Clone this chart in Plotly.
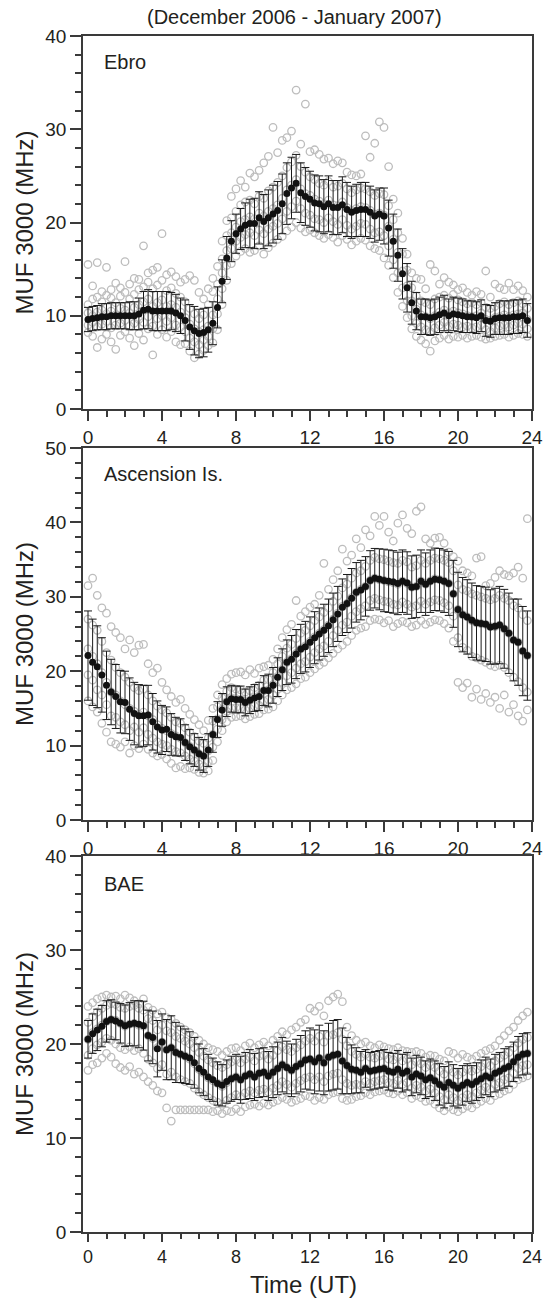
import plotly.graph_objects as go

# 15-minute UT slots 0.00 ... 23.75
TIMES = [i * 0.25 for i in range(96)]

TITLE = "(December 2006 - January 2007)"
STATIONS = ["Ebro", "Ascension Is.", "BAE"]
Y_MAX = [40, 50, 40]
X_TICKS = [0, 4, 8, 12, 16, 20, 24]

ebro_mean = [9.6, 9.7, 9.8, 9.9, 9.9, 10.0, 10.0, 10.0, 10.0, 10.0, 10.0, 10.2,
             10.6, 10.7, 10.5, 10.5, 10.5, 10.5, 10.5, 10.3, 10.0, 9.5, 8.8, 8.4,
             8.1, 8.2, 8.5, 9.2, 10.9, 13.7, 16.2, 18.0, 18.8, 19.3, 19.7, 19.9,
             19.9, 20.5, 20.1, 20.5, 20.9, 21.3, 22.0, 23.1, 23.7, 24.2, 23.2, 22.8,
             22.5, 22.1, 22.0, 21.7, 22.0, 21.6, 21.6, 21.9, 21.4, 21.1, 21.3, 21.4,
             21.4, 21.1, 20.7, 20.9, 20.7, 19.4, 18.0, 16.5, 14.5, 13.0, 11.4, 10.5,
             9.9, 9.9, 9.8, 9.9, 10.1, 10.3, 10.0, 10.2, 10.1, 10.0, 9.9, 9.9,
             9.8, 10.0, 9.5, 9.4, 9.7, 9.8, 9.8, 9.8, 9.9, 9.9, 10.0, 9.5]
ebro_std = [1.3, 1.3, 1.3, 1.4, 1.4, 1.4, 1.4, 1.4, 1.4, 1.5, 1.5, 1.7,
            2.0, 2.1, 2.1, 2.1, 2.1, 2.1, 2.0, 2.0, 1.9, 2.2, 2.4, 2.6,
            2.6, 2.6, 2.4, 2.3, 2.2, 2.3, 2.3, 2.2, 2.1, 2.2, 2.4, 2.6,
            2.7, 2.8, 2.9, 3.0, 3.1, 3.1, 3.2, 3.3, 3.3, 3.1, 3.2, 3.1,
            3.0, 3.0, 3.0, 2.9, 3.0, 2.9, 2.9, 3.0, 2.9, 2.8, 2.8, 2.9,
            2.9, 2.8, 2.8, 2.8, 3.0, 3.0, 2.9, 2.8, 2.7, 2.6, 2.3, 2.0,
            1.9, 1.9, 1.9, 1.9, 1.9, 1.9, 1.8, 1.8, 1.8, 1.8, 1.7, 1.7,
            1.7, 1.7, 1.7, 1.7, 1.7, 1.8, 1.8, 1.8, 1.8, 1.8, 1.8, 1.8]

asc_mean = [22.1, 21.2, 20.6, 19.5, 18.1, 17.2, 16.6, 15.9, 15.8, 14.9, 14.3, 14.0,
            14.0, 14.1, 13.2, 12.5, 12.1, 12.2, 11.5, 11.2, 11.1, 10.4, 9.85, 9.4,
            8.9, 8.6, 9.4, 11.5, 13.5, 14.8, 15.9, 16.3, 16.2, 16.2, 15.8, 16.1,
            16.4, 16.6, 17.4, 17.4, 18.1, 19.2, 20.2, 21.2, 21.6, 22.3, 23.0, 23.3,
            23.9, 24.5, 25.0, 25.5, 26.1, 26.9, 27.7, 28.6, 29.1, 29.8, 30.6, 30.9,
            31.4, 32.2, 32.5, 32.35, 32.2, 32.1, 32.0, 31.8, 32.1, 31.85, 31.3, 31.4,
            32.1, 31.7, 32.1, 32.35, 32.3, 32.1, 31.8, 30.4, 28.3, 27.6, 27.3, 26.85,
            26.5, 26.4, 26.3, 25.95, 26.05, 26.2, 25.7, 25.1, 24.2, 23.9, 22.7, 22.1]
asc_std = [6.0, 5.8, 5.5, 5.0, 4.6, 4.4, 4.3, 4.2, 4.2, 4.2, 4.2, 4.2,
           4.1, 4.0, 3.8, 3.5, 3.3, 3.0, 2.8, 2.6, 2.5, 2.4, 2.3, 2.2,
           2.2, 2.2, 2.2, 2.4, 2.4, 2.2, 2.0, 1.8, 1.8, 1.8, 1.8, 1.8,
           1.8, 1.9, 2.0, 2.2, 2.4, 2.6, 2.8, 3.0, 3.2, 3.3, 3.3, 3.4,
           3.4, 3.5, 3.5, 3.5, 3.6, 3.6, 3.7, 3.8, 3.9, 4.0, 4.0, 4.0,
           4.0, 4.0, 4.0, 4.1, 4.2, 4.2, 4.2, 4.2, 4.2, 4.2, 4.2, 4.2,
           4.2, 4.2, 4.2, 4.2, 4.2, 4.2, 4.3, 4.5, 5.0, 5.0, 5.0, 5.0,
           5.0, 5.0, 5.0, 5.0, 5.1, 5.2, 5.3, 5.4, 5.5, 5.8, 6.0, 6.0]

bae_mean = [20.5, 21.1, 21.5, 21.9, 22.4, 22.6, 22.45, 22.2, 21.95, 22.1, 22.2, 22.1,
            21.95, 20.9, 20.7, 19.5, 20.2, 19.4, 19.6, 19.1, 18.9, 18.7, 18.5, 18.0,
            17.4, 17.0, 16.5, 16.2, 15.8, 15.6, 16.0, 16.3, 16.5, 16.2, 16.6, 16.8,
            16.5, 16.9, 17.0, 16.6, 17.0, 17.4, 17.8, 17.5, 17.2, 17.6, 17.9, 18.3,
            18.4, 18.1, 18.5, 18.0, 18.6, 18.8, 18.9, 18.2, 17.7, 17.3, 17.2, 17.0,
            17.4, 17.1, 17.2, 17.3, 17.4, 17.1, 17.0, 17.3, 16.9, 17.1, 16.5, 16.8,
            16.6, 16.2, 16.4, 16.1, 15.7, 15.4, 15.9, 15.6, 15.3, 15.6, 15.9, 15.7,
            16.0, 16.3, 16.6, 16.4, 16.9, 17.1, 17.4, 17.6, 18.1, 18.6, 18.9, 19.0]
bae_std = [2.0, 2.1, 2.2, 2.2, 2.2, 2.1, 2.0, 2.1, 2.2, 2.3, 2.4, 2.5,
           2.6, 2.7, 2.8, 3.0, 3.0, 3.2, 3.4, 3.2, 3.0, 2.9, 2.8, 2.7,
           2.6, 2.5, 2.4, 2.3, 2.3, 2.2, 2.3, 2.4, 2.4, 2.5, 2.5, 2.6,
           2.5, 2.6, 2.6, 2.6, 2.7, 2.8, 2.9, 2.8, 2.8, 2.9, 3.0, 3.1,
           3.3, 3.4, 3.5, 3.4, 3.6, 3.7, 3.7, 3.5, 3.0, 2.6, 2.4, 2.2,
           2.0, 2.0, 2.0, 2.0, 2.0, 2.0, 2.0, 2.0, 2.0, 2.0, 2.0, 2.0,
           2.0, 2.0, 2.0, 2.1, 2.2, 2.2, 2.2, 2.2, 2.1, 2.1, 2.0, 2.0,
           2.0, 2.0, 2.0, 2.0, 2.0, 2.0, 2.1, 2.1, 2.1, 2.2, 2.2, 2.2]

# individual daily values (grey open circles), five per 15-min slot
ebro_obs = [
    [8.2, 9.0, 10.3, 11.2, 15.5], [7.8, 9.3, 10.0, 11.8, 13.2], [6.6, 8.8, 10.4, 12.0, 15.7], [7.5, 9.1, 10.6, 11.5, 12.6],
    [8.0, 9.4, 10.2, 12.2, 15.2], [7.2, 8.7, 10.5, 11.9, 12.8], [6.4, 9.0, 10.1, 11.4, 13.5], [7.9, 9.2, 10.8, 12.1, 13.0],
    [8.3, 9.5, 10.6, 12.5, 15.8], [7.6, 8.9, 10.3, 11.8, 13.4], [6.8, 9.2, 10.9, 12.3, 14.0], [8.1, 9.6, 11.2, 12.8, 13.9],
    [7.4, 9.3, 11.5, 13.1, 17.5], [8.6, 9.9, 11.8, 13.6, 14.6], [5.8, 8.9, 11.0, 12.9, 14.9], [8.0, 9.7, 11.4, 13.3, 15.2],
    [8.5, 10.0, 11.7, 13.8, 18.8], [7.7, 9.4, 11.0, 12.7, 14.4], [8.3, 9.8, 11.2, 13.0, 14.7], [7.2, 9.0, 10.9, 12.4, 14.2],
    [6.9, 8.8, 10.4, 12.0, 13.6], [7.0, 8.3, 9.8, 11.5, 13.9], [6.2, 7.6, 9.1, 10.8, 14.3], [5.5, 7.2, 8.6, 10.2, 13.8],
    [5.9, 6.9, 8.3, 9.7, 12.5], [6.3, 7.4, 8.5, 10.1, 11.8], [6.8, 7.8, 8.9, 11.2, 12.9], [7.1, 8.6, 10.1, 12.6, 14.0],
    [8.5, 10.2, 11.8, 13.4, 15.3], [11.2, 12.9, 14.6, 16.1, 18.0], [13.8, 15.4, 17.0, 18.6, 20.2], [15.6, 17.2, 18.9, 20.5, 22.8],
    [16.4, 18.0, 19.5, 21.2, 23.6], [16.9, 18.4, 20.1, 21.9, 24.5], [17.2, 18.7, 20.3, 22.2, 23.8], [16.8, 18.9, 20.6, 22.4, 25.3],
    [17.0, 18.6, 20.4, 22.0, 24.9], [17.5, 19.2, 21.0, 22.8, 25.6], [16.6, 18.8, 20.7, 22.6, 26.4], [17.3, 19.3, 21.2, 23.4, 27.1],
    [17.8, 19.6, 21.5, 23.8, 30.2], [18.2, 19.9, 21.9, 24.3, 27.5], [18.5, 20.4, 22.6, 25.0, 28.8], [19.1, 21.2, 23.5, 25.9, 29.1],
    [19.5, 21.7, 24.0, 26.5, 29.8], [20.0, 22.3, 24.6, 27.2, 34.2], [19.4, 21.5, 23.6, 26.0, 28.4], [19.0, 21.0, 23.1, 25.4, 32.7],
    [19.2, 20.8, 22.9, 24.9, 27.6], [18.9, 20.4, 22.5, 24.6, 27.8], [18.6, 20.3, 22.3, 24.2, 27.3], [18.3, 20.0, 22.0, 24.0, 26.8],
    [18.7, 20.5, 22.4, 24.4, 26.9], [18.4, 20.1, 21.9, 23.8, 26.3], [17.9, 19.8, 21.8, 23.9, 26.6], [18.6, 20.3, 22.2, 24.2, 26.4],
    [18.2, 19.7, 21.6, 23.6, 25.4], [17.6, 19.3, 21.3, 23.2, 25.1], [18.0, 19.6, 21.5, 23.5, 25.0], [18.3, 19.9, 21.7, 23.7, 25.2],
    [18.1, 19.8, 21.6, 23.6, 29.3], [17.5, 19.3, 21.3, 23.3, 27.0], [17.2, 18.9, 20.9, 22.9, 28.5], [17.0, 19.0, 21.0, 23.1, 30.8],
    [16.2, 18.6, 20.8, 23.0, 30.2], [15.4, 17.5, 19.6, 21.8, 26.0], [14.1, 16.0, 18.2, 20.3, 22.5], [12.5, 14.6, 16.8, 18.9, 21.0],
    [11.0, 13.0, 14.8, 16.6, 18.3], [9.8, 11.6, 13.2, 14.9, 16.6], [8.6, 10.0, 11.6, 13.0, 14.6], [7.8, 9.2, 10.7, 12.1, 14.0],
    [7.4, 8.8, 10.1, 11.6, 13.9], [7.0, 8.5, 9.9, 11.4, 12.9], [6.2, 8.3, 9.7, 11.2, 15.5], [7.3, 8.7, 10.0, 11.8, 14.8],
    [7.6, 9.0, 10.4, 12.0, 13.4], [7.9, 9.3, 10.6, 12.2, 14.1], [7.5, 8.9, 10.3, 11.9, 13.6], [7.8, 9.1, 10.5, 12.3, 13.3],
    [7.7, 9.0, 10.3, 11.7, 12.8], [7.9, 8.8, 10.2, 11.5, 13.0], [7.6, 8.9, 10.0, 11.3, 12.5], [7.8, 8.7, 9.9, 11.4, 12.2],
    [7.9, 8.8, 10.0, 11.2, 12.6], [7.7, 9.0, 10.3, 11.4, 12.3], [7.5, 8.5, 9.6, 10.9, 14.8], [7.6, 8.3, 9.5, 10.8, 12.0],
    [7.8, 8.7, 9.8, 11.0, 13.4], [7.9, 8.9, 9.9, 11.3, 13.0], [8.0, 9.0, 10.1, 11.5, 12.8], [7.7, 8.8, 9.9, 11.2, 13.5],
    [7.9, 9.0, 10.1, 11.4, 12.8], [8.1, 9.2, 10.2, 11.6, 13.2], [8.0, 9.1, 10.3, 11.3, 12.7], [7.8, 8.6, 9.6, 10.8, 12.0],
]

asc_obs = [
    [16.0, 19.5, 23.0, 27.0, 31.5], [15.2, 18.8, 22.0, 26.2, 32.5], [14.5, 17.5, 21.0, 25.5, 30.2], [13.0, 16.8, 19.8, 24.0, 28.5],
    [11.8, 15.5, 18.5, 22.5, 27.8], [10.5, 14.0, 17.2, 21.5, 26.0], [10.2, 13.8, 16.8, 20.5, 25.2], [9.8, 13.2, 16.0, 19.8, 24.5],
    [10.5, 12.8, 15.5, 19.2, 23.0], [9.0, 12.0, 15.0, 18.5, 24.2], [10.0, 12.5, 14.6, 17.8, 22.5], [9.6, 11.8, 14.2, 17.4, 23.5],
    [10.2, 12.4, 14.5, 17.6, 23.6], [9.5, 11.5, 14.0, 16.8, 21.0], [9.0, 11.0, 13.5, 16.0, 19.8], [8.6, 10.5, 12.8, 15.3, 20.4],
    [8.8, 10.2, 12.3, 14.8, 18.5], [8.2, 10.0, 12.0, 14.4, 17.5], [7.6, 9.5, 11.6, 13.8, 16.6], [7.0, 9.2, 11.3, 13.2, 15.8],
    [7.2, 9.0, 11.0, 13.0, 16.2], [6.9, 8.6, 10.4, 12.4, 15.0], [7.0, 8.2, 9.9, 11.8, 14.2], [6.8, 7.9, 9.4, 11.2, 13.5],
    [6.4, 7.5, 8.9, 10.6, 12.8], [6.3, 7.2, 8.6, 10.3, 12.0], [6.6, 7.8, 9.3, 11.0, 13.4], [8.0, 9.8, 11.5, 13.3, 15.0],
    [10.5, 12.2, 13.6, 15.2, 16.8], [12.0, 13.5, 14.9, 16.4, 18.2], [13.2, 14.6, 15.9, 17.3, 19.0], [13.8, 15.0, 16.4, 17.8, 19.6],
    [13.9, 15.1, 16.3, 17.6, 19.8], [14.0, 15.0, 16.2, 17.5, 19.9], [13.6, 14.8, 15.9, 17.2, 19.5], [13.9, 15.0, 16.1, 17.4, 20.2],
    [14.2, 15.3, 16.5, 17.8, 19.7], [14.3, 15.4, 16.7, 18.1, 20.4], [14.8, 16.0, 17.4, 18.8, 20.6], [14.9, 16.2, 17.5, 18.9, 20.8],
    [15.2, 16.8, 18.2, 19.8, 21.6], [16.0, 17.6, 19.3, 21.0, 23.0], [16.8, 18.5, 20.2, 22.0, 24.5], [17.5, 19.4, 21.2, 23.1, 25.6],
    [17.8, 19.8, 21.7, 23.6, 26.3], [18.3, 20.4, 22.4, 24.4, 29.5], [19.0, 21.0, 23.0, 25.1, 27.4], [19.2, 21.3, 23.4, 25.5, 28.0],
    [19.8, 21.9, 24.0, 26.1, 28.6], [20.3, 22.5, 24.6, 26.8, 29.0], [20.8, 23.0, 25.1, 27.3, 30.2], [21.2, 23.4, 25.6, 27.9, 34.5],
    [21.8, 24.0, 26.2, 28.5, 31.0], [22.4, 24.8, 27.0, 29.4, 32.3], [23.0, 25.5, 27.8, 30.1, 33.5], [23.5, 26.2, 28.7, 31.2, 36.4],
    [24.0, 26.6, 29.1, 31.7, 34.8], [24.8, 27.4, 29.9, 32.5, 35.6], [25.5, 28.0, 30.6, 33.2, 37.8], [25.8, 28.4, 31.0, 33.5, 36.6],
    [26.0, 28.8, 31.4, 34.1, 39.0], [26.8, 29.5, 32.2, 34.9, 38.2], [27.0, 29.8, 32.5, 35.3, 40.8], [26.9, 29.6, 32.3, 35.1, 39.6],
    [26.5, 29.4, 32.2, 35.0, 40.8], [26.8, 29.3, 32.0, 34.8, 38.7], [26.0, 29.0, 31.9, 34.6, 37.5], [26.4, 28.9, 31.7, 34.5, 39.9],
    [26.7, 29.3, 32.1, 34.9, 41.0], [26.5, 29.0, 31.8, 34.7, 39.2], [26.0, 28.6, 31.3, 34.0, 38.5], [26.2, 28.8, 31.4, 34.2, 41.5],
    [26.8, 29.4, 32.1, 34.9, 42.1], [26.3, 29.0, 31.7, 34.5, 37.8], [26.6, 29.3, 32.1, 34.9, 37.2], [26.9, 29.6, 32.4, 35.2, 37.9],
    [26.8, 29.5, 32.3, 35.1, 38.0], [26.4, 29.2, 32.1, 34.9, 37.2], [25.8, 28.8, 31.8, 34.6, 36.0], [24.0, 27.4, 30.4, 33.5, 35.4],
    [18.5, 24.5, 28.3, 31.6, 34.8], [17.8, 23.2, 27.6, 31.0, 33.5], [18.4, 22.8, 27.3, 30.8, 33.2], [16.5, 22.0, 26.8, 30.4, 32.8],
    [17.6, 21.8, 26.5, 30.2, 35.2], [16.2, 21.5, 26.4, 30.0, 35.4], [17.0, 21.2, 26.3, 29.8, 31.5], [15.8, 20.8, 26.0, 29.6, 31.8],
    [16.5, 20.6, 26.0, 29.8, 32.6], [15.0, 20.8, 26.2, 30.2, 33.5], [16.8, 20.5, 25.7, 29.8, 33.0], [14.5, 19.8, 25.1, 29.5, 32.8],
    [15.5, 19.2, 24.2, 28.8, 33.2], [14.0, 18.6, 23.9, 28.5, 34.0], [13.3, 17.8, 22.7, 27.6, 32.5], [14.8, 17.2, 22.1, 26.8, 40.5],
]

bae_obs = [
    [17.2, 18.8, 20.5, 22.3, 24.0], [17.8, 19.5, 21.2, 22.9, 24.4], [18.0, 19.9, 21.6, 23.4, 24.8], [18.5, 20.2, 22.0, 23.8, 25.0],
    [19.0, 20.6, 22.4, 24.1, 25.2], [18.6, 20.4, 22.6, 24.3, 25.0], [17.9, 20.0, 22.5, 24.2, 25.1], [17.5, 19.6, 22.2, 23.9, 24.8],
    [17.2, 19.4, 21.9, 23.8, 25.2], [17.6, 19.7, 22.1, 24.0, 24.9], [16.8, 19.3, 22.2, 24.1, 24.6], [17.0, 19.5, 22.0, 23.8, 24.3],
    [16.5, 19.0, 21.9, 23.6, 24.8], [16.0, 18.4, 20.9, 22.7, 23.9], [15.6, 18.0, 20.6, 22.5, 23.6], [15.0, 17.4, 19.6, 21.5, 23.2],
    [14.8, 17.8, 20.2, 22.0, 23.4], [13.2, 16.8, 19.4, 21.4, 22.8], [11.8, 17.0, 19.6, 21.2, 22.6], [13.0, 16.5, 19.1, 20.8, 22.2],
    [13.0, 16.2, 18.9, 20.6, 21.8], [13.0, 16.0, 18.7, 20.3, 21.5], [13.0, 15.8, 18.4, 20.0, 21.2], [13.0, 15.3, 17.9, 19.6, 20.8],
    [13.0, 14.9, 17.3, 19.1, 20.4], [13.0, 14.6, 16.9, 18.7, 20.0], [13.0, 14.3, 16.4, 18.3, 19.6], [12.8, 14.0, 16.1, 18.0, 19.4],
    [12.9, 13.8, 15.8, 17.7, 19.2], [12.6, 13.6, 15.5, 17.5, 18.8], [12.9, 14.0, 15.9, 17.8, 19.2], [12.8, 14.3, 16.3, 18.1, 19.5],
    [13.1, 14.6, 16.5, 18.3, 19.6], [12.8, 14.4, 16.2, 18.0, 19.3], [13.3, 14.8, 16.6, 18.4, 19.8], [13.5, 15.0, 16.8, 18.6, 20.1],
    [13.6, 14.8, 16.5, 18.2, 19.6], [13.4, 15.1, 16.9, 18.7, 19.9], [13.7, 15.2, 17.0, 18.8, 20.2], [13.5, 14.9, 16.6, 18.4, 19.8],
    [13.8, 15.3, 17.0, 18.8, 20.4], [14.0, 15.6, 17.4, 19.3, 20.8], [14.3, 16.0, 17.8, 19.7, 21.3], [14.1, 15.7, 17.5, 19.4, 21.0],
    [13.8, 15.4, 17.2, 19.2, 21.5], [14.0, 15.8, 17.6, 19.6, 21.8], [14.2, 16.1, 17.9, 19.9, 22.3], [14.5, 16.4, 18.3, 20.3, 22.6],
    [14.4, 16.5, 18.4, 20.6, 23.8], [14.0, 16.2, 18.1, 20.3, 23.5], [14.3, 16.5, 18.5, 20.8, 24.0], [14.1, 16.0, 18.0, 20.2, 23.0],
    [14.6, 16.6, 18.6, 20.9, 24.6], [14.8, 16.8, 18.8, 21.0, 25.0], [14.9, 16.9, 18.9, 21.2, 25.3], [14.2, 16.2, 18.2, 20.5, 24.5],
    [14.0, 15.8, 17.7, 19.8, 21.8], [14.1, 15.6, 17.3, 19.2, 20.9], [14.4, 15.7, 17.2, 18.9, 20.4], [14.5, 15.6, 17.0, 18.6, 20.0],
    [14.8, 16.0, 17.4, 18.9, 20.2], [14.6, 15.8, 17.1, 18.6, 19.8], [14.9, 16.0, 17.2, 18.5, 19.6], [15.0, 16.1, 17.3, 18.7, 19.9],
    [15.1, 16.2, 17.4, 18.8, 19.7], [14.8, 15.9, 17.1, 18.4, 19.5], [14.7, 15.8, 17.0, 18.3, 19.4], [15.0, 16.1, 17.3, 18.6, 19.6],
    [14.6, 15.7, 16.9, 18.2, 19.3], [14.8, 15.9, 17.1, 18.4, 19.2], [14.2, 15.3, 16.5, 17.8, 19.1], [14.5, 15.6, 16.8, 18.1, 19.2],
    [14.3, 15.4, 16.6, 17.9, 19.0], [13.9, 15.0, 16.2, 17.5, 18.6], [14.0, 15.2, 16.4, 17.7, 18.8], [13.6, 14.8, 16.1, 17.5, 18.7],
    [13.2, 14.4, 15.7, 17.1, 18.4], [12.9, 14.1, 15.4, 16.8, 18.2], [13.3, 14.6, 15.9, 17.3, 19.2], [13.0, 14.3, 15.6, 17.0, 19.0],
    [12.8, 14.0, 15.3, 16.7, 18.5], [13.1, 14.3, 15.6, 17.0, 18.9], [13.4, 14.6, 15.9, 17.3, 18.6], [13.2, 14.4, 15.7, 17.1, 18.4],
    [13.6, 14.8, 16.0, 17.3, 18.7], [13.9, 15.1, 16.3, 17.6, 19.0], [14.2, 15.4, 16.6, 17.9, 19.3], [14.0, 15.2, 16.4, 17.7, 19.5],
    [14.5, 15.7, 16.9, 18.2, 19.8], [14.7, 15.9, 17.1, 18.5, 20.4], [15.0, 16.2, 17.4, 18.8, 20.9], [15.2, 16.4, 17.6, 19.1, 21.4],
    [15.7, 16.9, 18.1, 19.6, 21.8], [16.2, 17.4, 18.6, 20.1, 22.5], [16.4, 17.7, 18.9, 20.5, 23.0], [16.6, 17.8, 19.0, 20.7, 23.4],
]

MEANS = [ebro_mean, asc_mean, bae_mean]
STDS = [ebro_std, asc_std, bae_std]
OBS = [ebro_obs, asc_obs, bae_obs]

FONT = "Liberation Sans, Arial, Helvetica, sans-serif"
INK = "#231f20"
AXC = "#3a3a3a"
GREY = "#bdbdbd"

# panel domains (paper fraction, bottom = 0)
DOMAINS = [[0.6881, 1.0], [0.3445, 0.6555], [0.0, 0.3144]]

fig = go.Figure()

for k in range(3):
    xs = "x" if k == 0 else f"x{k+1}"
    ys = "y" if k == 0 else f"y{k+1}"
    ox, oy = [], []
    for t, vals in zip(TIMES, OBS[k]):
        for v in vals:
            ox.append(t)
            oy.append(v)
    fig.add_trace(go.Scatter(
        x=ox, y=oy, mode="markers", xaxis=xs, yaxis=ys, showlegend=False,
        marker=dict(symbol="circle-open", size=7.5, color=GREY, line=dict(width=1.3, color=GREY)),
        hoverinfo="skip"))
    fig.add_trace(go.Scatter(
        x=TIMES, y=MEANS[k], mode="markers", xaxis=xs, yaxis=ys, showlegend=False,
        marker=dict(symbol="circle", size=7, color="#111111"),
        error_y=dict(type="data", array=STDS[k], visible=True, color="#1a1a1a",
                     thickness=1, width=4)))

for k in range(3):
    xname = "xaxis" if k == 0 else f"xaxis{k+1}"
    yname = "yaxis" if k == 0 else f"yaxis{k+1}"
    yanchor = "y" if k == 0 else f"y{k+1}"
    xanchor = "x" if k == 0 else f"x{k+1}"
    last = (k == 2)
    fig.layout[xname] = dict(
        domain=[0, 1], anchor=yanchor, range=[-0.27, 24.0], automargin=False,
        tickmode="array", tickvals=X_TICKS, ticktext=[str(v) for v in X_TICKS],
        ticks="outside", ticklen=8 if last else 10, tickwidth=1.5, tickcolor=AXC,
        minor=dict(dtick=1, tick0=0, ticks="outside", ticklen=5 if last else 6, tickwidth=1.5, tickcolor=AXC),
        showline=True, linecolor=AXC, linewidth=1.5, mirror=True,
        showgrid=False, zeroline=False,
        tickfont=dict(family=FONT, size=18 if last else 19, color=INK))
    fig.layout[yname] = dict(
        domain=DOMAINS[k], anchor=xanchor, range=[0, Y_MAX[k]], automargin=False,
        tickmode="linear", tick0=0, dtick=10,
        ticks="outside", ticklen=11, tickwidth=1.5, tickcolor=AXC,
        minor=dict(dtick=2, tick0=0, ticks="outside", ticklen=6, tickwidth=1.5, tickcolor=AXC),
        showline=True, linecolor=AXC, linewidth=1.5, mirror=True,
        showgrid=False, zeroline=False,
        tickfont=dict(family=FONT, size=19, color=INK),
        title=dict(text="MUF 3000 (MHz)", font=dict(family=FONT, size=24, color=INK), standoff=5))

annotations = []
label_y = [0.93, 0.93, 0.925]
for k in range(3):
    xd = "x domain" if k == 0 else f"x{k+1} domain"
    yd = "y domain" if k == 0 else f"y{k+1} domain"
    annotations.append(dict(text=STATIONS[k], xref=xd, yref=yd, x=0.042, y=label_y[k],
                            xanchor="left", yanchor="middle", showarrow=False,
                            font=dict(family=FONT, size=20, color=INK)))
annotations.append(dict(text=TITLE, xref="paper", yref="paper", x=0.472, y=1.0, yshift=19,
                        xanchor="center", yanchor="middle", showarrow=False,
                        font=dict(family=FONT, size=20, color=INK)))
annotations.append(dict(text="Time (UT)", xref="paper", yref="paper", x=0.49, y=0.0, yshift=-52,
                        xanchor="center", yanchor="middle", showarrow=False, borderpad=0,
                        font=dict(family=FONT, size=24, color=INK)))

fig.update_layout(
    width=545, height=1299,
    margin=dict(l=83, r=13, t=36, b=67),
    paper_bgcolor="white", plot_bgcolor="white",
    annotations=annotations,
    showlegend=False,
)

fig.write_html("out.html", config={"displayModeBar": False},
               post_script="document.body.style.margin='0';document.body.style.padding='0';")
